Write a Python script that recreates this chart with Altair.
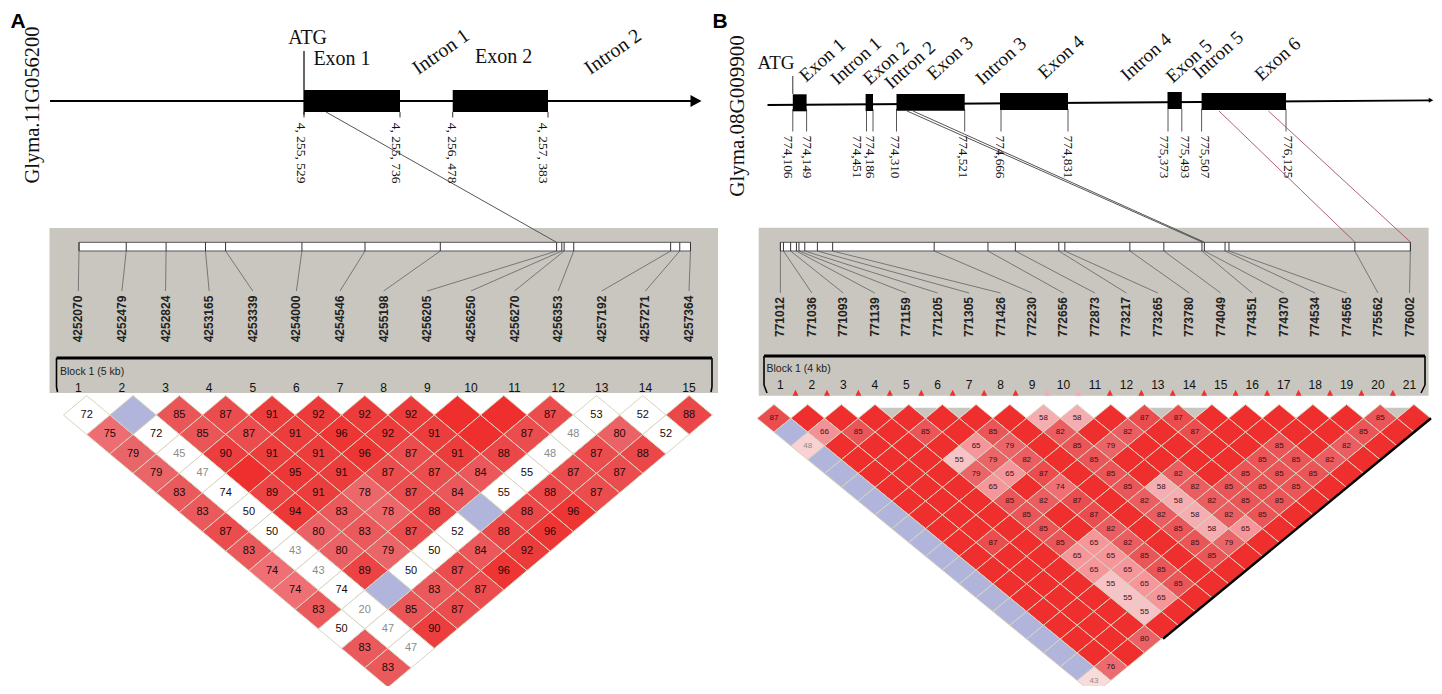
import altair as alt
import pandas as pd

# ---------- panel A: LD matrix (row = SNP distance; None = full-red cell without a number, "B" = blue cell)
LD_A = [
    [72, "B", 85, 87, 91, 92, 92, 92, None, None, 87, 53, 52, 88],
    [75, 72, 85, 87, 91, 96, 92, 91, None, 87, 48, 80, 52],
    [79, 45, 90, 91, 91, 96, 87, 91, 88, 48, 87, 88],
    [79, 47, None, 95, 91, 87, 87, 84, 55, 87, 87],
    [83, 74, 89, 91, 78, 87, 84, 55, 88, 87],
    [83, 50, 94, 83, 78, 88, "B", 88, 96],
    [87, 50, 80, 83, 87, 52, 88, 96],
    [83, 43, 80, 79, 50, 84, 92],
    [74, 43, 89, 50, 87, 96],
    [74, 74, "B", 83, 87],
    [83, 20, 85, 87],
    [50, 47, 90],
    [83, 47],
    [83],
]
# cells of LD_A that are white (row index, cell index)
WHITE_A = [(0, 0), (0, 11), (0, 12), (1, 1), (1, 10), (1, 12), (2, 1), (2, 9), (3, 1), (3, 8),
           (4, 1), (4, 7), (5, 1), (6, 1), (6, 5), (7, 1), (7, 4), (8, 1), (8, 3),
           (9, 1), (10, 1), (11, 0), (11, 1), (12, 1)]

# ---------- panel B: LD matrix, labelled cells only (row -> {cell: value}); every other cell is full red
LD_B = {
    1: {0: 87, 8: 58, 9: 58, 11: 87, 12: 87, 18: 85},
    2: {1: 66, 2: 85, 4: 85, 6: 85, 8: 82, 10: 82, 12: 87, 17: 85},
    3: {0: 48, 5: 65, 6: 79, 8: 85, 9: 79, 14: 85, 16: 82},
    4: {4: 55, 5: 79, 6: 82, 8: 85, 13: 85, 14: 85, 15: 82},
    5: {4: 79, 5: 65, 6: 87, 8: 85, 10: 82, 12: 85, 13: 85, 14: 85},
    6: {4: 65, 6: 74, 8: 85, 9: 58, 10: 82, 11: 85, 12: 85, 13: 85},
    7: {4: 85, 5: 82, 6: 87, 8: 82, 9: 58, 10: 82, 11: 85, 12: 85},
    8: {4: 85, 6: 87, 8: 82, 9: 58, 10: 82, 11: 85},
    9: {4: 85, 6: 82, 8: 85, 9: 58, 10: 65},
    10: {2: 87, 4: 85, 5: 65, 6: 82, 8: 85, 9: 79},
    11: {4: 65, 5: 65, 6: 85, 8: 85},
    12: {4: 65, 5: 65, 6: 85},
    13: {4: 55, 5: 65, 6: 85},
    14: {4: 55, 5: 65},
    15: {4: 55},
    17: {3: 80},
    19: {1: 76},
    20: {0: 43},
}

SNP_A = [4252070, 4252479, 4252824, 4253165, 4253339, 4254000, 4254546, 4255198,
         4256205, 4256250, 4256270, 4256353, 4257192, 4257271, 4257364]
SNP_B = [771012, 771036, 771093, 771139, 771159, 771205, 771305, 771426, 772230, 772656, 772873,
         773217, 773265, 773780, 774049, 774351, 774370, 774534, 774565, 775562, 776002]

COORD_A = ["4, 255, 529", "4, 255, 736", "4, 256, 478", "4, 257, 383"]
COORD_B = ["774,106", "774,149", "774,451", "774,186", "774,310", "774,521",
           "774,666", "774,831", "775,373", "775,493", "775,507", "776,125"]
FEATURES_B = ["Exon 1", "Intron 1", "Exon 2", "Intron 2", "Exon 3", "Intron 3",
              "Exon 4", "Intron 4", "Exon 5", "Intron 5", "Exon 6"]

# ---------- layout
RED_DOMAIN = [43, 55, 58, 65, 74, 79, 85, 90, 100]
RED_RANGE = ["#fadbdb", "#f6c4c6", "#f4aeb2", "#f4969a", "#ef6f74", "#ea6568", "#ea5558", "#ec3e3f", "#ee2f2d"]
BLUE, WHITE, PANEL = "#b2b5db", "#ffffff", "#c8c6bf"

A_CELL = dict(x0=86.7, y0=415.0, hw=23.17, hh=19.45)
B_CELL = dict(x0=774.0, y0=418.3, hw=16.84, hh=13.8)

segments, texts_serif, texts_bold, texts_narrow = [], [], [], []


def seg(x, y, x2, y2, color="#000000", w=1.0):
    segments.append(dict(x=x, y=y, x2=x2, y2=y2, c=color, w=w))


def txt(store, x, y, t, size, angle=0, color="#111111"):
    store.append(dict(x=x, y=y, t=str(t), s=size, a=angle, c=color))


# gene model A
seg(50, 101, 692, 101, "#000000", 2)
seg(304, 51, 304, 115, "#000000", 1.2)
EXONS_A = [(304, 400, 90, 112), (452.7, 548, 90, 112)]
for x, t, tx in zip([304, 400, 452.7, 548], COORD_A, [301, 396, 452, 543]):
    seg(x, 112, x, 117.5, "#333333", 1)
    txt(texts_serif, tx, 153, t, 13.5, 90)
seg(326, 112, 556, 242, "#555555", 1)
txt(texts_serif, 33, 105, "Glyma.11G056200", 20.5, 270)
txt(texts_serif, 307.6, 38, "ATG", 20)
txt(texts_serif, 342, 59, "Exon 1", 20)
txt(texts_serif, 503.6, 57, "Exon 2", 20)
txt(texts_serif, 441, 52, "Intron 1", 20, 325)
txt(texts_serif, 613, 52, "Intron 2", 20, 325)

# gene model B
seg(767.5, 105, 1430, 100.4, "#000000", 1.8)
seg(792.8, 76, 792.8, 94, "#333333", 1)
EXONS_B = [(792.8, 806.6, 94.3, 111.3), (865.6, 873, 94, 111), (896.5, 964.7, 94, 110.7),
           (1000, 1068, 93, 110), (1167.5, 1181.8, 92, 109), (1201.6, 1286, 93, 110)]
for x, x_t, t in zip([792.8, 806.6, 866.5, 873, 896.5, 964.7, 1001, 1068, 1168, 1181.8, 1201.6, 1286],
                     [787.7, 806.6, 857.3, 869.8, 895, 962.9, 999.7, 1068, 1163.8, 1185, 1204.8, 1288.2],
                     COORD_B):
    seg(x, 109, x, 131.5, "#444444", 0.9)
    txt(texts_serif, x_t, 157, t, 13.2, 90)
seg(907, 111, 1202, 242, "#555555", 1)
seg(913, 111, 1204, 242, "#555555", 1)
seg(1219, 111, 1354.8, 242, "#a85062", 0.9)
seg(1268.4, 111, 1410.4, 242, "#a85062", 0.9)
txt(texts_serif, 738, 116, "Glyma.08G009900", 21, 270)
txt(texts_serif, 776, 63, "ATG", 19)
for f, fx, fy in zip(FEATURES_B,
                     [822.3, 856, 886, 910, 950, 1001, 1061, 1146, 1189, 1218, 1277.6],
                     [60, 61, 63, 65, 58, 61, 57, 57, 61, 55, 59]):
    txt(texts_serif, fx, fy, f, 19, 318)

txt(texts_bold, 18, 22, "A", 21, 0, "#000000")
txt(texts_bold, 720, 22, "B", 21, 0, "#000000")


# SNP strips
def strip(snps, bar_l, bar_r, lab_l, lab_r, lab_y, num_y, conn_y):
    n = len(snps)
    for i, s in enumerate(snps):
        bx = bar_l + (s - snps[0]) / (snps[-1] - snps[0]) * (bar_r - bar_l)
        lx = lab_l + i * (lab_r - lab_l) / (n - 1)
        seg(bx, 242.3, bx, 251, "#333333", 1)
        seg(bx, 251, lx, conn_y, "#777777", 1)
        txt(texts_bold, lx, lab_y, s, 12, 270, "#222222")
        txt(texts_narrow, lx, num_y, i + 1, 12, 0, "#111111")


strip(SNP_A, 79, 690.5, 78.3, 689, 319, 388, 291)
strip(SNP_B, 780.4, 1410.4, 780.4, 1409.5, 317, 385, 293)

# brackets
for pts in ([(57.5, 392), (56.5, 387), (56.5, 358), (712, 358), (712, 387), (711, 392)],
            [(767, 393), (764, 385), (764, 356), (1425, 356), (1425, 385), (1421, 393)]):
    for (a, b), (c, d) in zip(pts[:-1], pts[1:]):
        seg(a, b, c, d, "#000000", 3 if b == d else 1.6)

blocks = [dict(x=60, y=372, t="Block 1 (5 kb)"), dict(x=766.5, y=369, t="Block 1 (4 kb)")]


# LD cells
def cell_xy(g, r, k):
    return g["x0"] + (r - 1) * g["hw"] + k * 2 * g["hw"], g["y0"] + (r - 1) * g["hh"]


rows_a = []
for r, row in enumerate(LD_A):
    for k, v in enumerate(row):
        x, y = cell_xy(A_CELL, r + 1, k)
        kind = "blue" if v == "B" else ("white" if (r, k) in WHITE_A else "red")
        rows_a.append(dict(x=x, y=y, v=100 if v in (None, "B") else v, kind=kind,
                           t="" if v in (None, "B") else str(v),
                           c="#8c8c8c" if isinstance(v, int) and v < 50 else "#240808"))
cells_a = pd.DataFrame(rows_a)

rows_b = []
for r in range(1, 21):
    for k in range(21 - r):
        x, y = cell_xy(B_CELL, r, k)
        v = LD_B.get(r, {}).get(k)
        blue = v is None and k == 0 and r != 1
        rows_b.append(dict(x=x, y=y, v=100 if v is None else v, kind="blue" if blue else "red",
                           t="" if v is None else str(v),
                           c="#8c8c8c" if v is not None and v < 50 else "#3a1014"))
cells_b = pd.DataFrame(rows_b)

# gaps showing the panel colour above panel B's first row
GAPS_B = [3.5, 4.5, 5.5, 11.5, 12.5, 18.5]
gaps = pd.DataFrame([dict(x=B_CELL["x0"] + g * 2 * B_CELL["hw"], y=407.7) for g in GAPS_B])
# LD-block markers in panel B
MARKER_COL_B = ["#ee3030"] * 20
MARKER_COL_B[8] = MARKER_COL_B[9] = "#f4aab0"
markers = pd.DataFrame([dict(x=795.5 + i * 31.44, y=392.7, c=c) for i, c in enumerate(MARKER_COL_B)])

# ---------- chart: the scales' domains are the page's own pixel span of the picture
XS = alt.Scale(domain=[8, 1434], nice=False, zero=False)
YS = alt.Scale(domain=[686, 8], nice=False, zero=False)


def X(f="x"):
    return alt.X(f"{f}:Q", scale=XS, axis=None)


def Y(f="y"):
    return alt.Y(f"{f}:Q", scale=YS, axis=None)


def rects(df, **mark):
    return alt.Chart(df).mark_rect(**mark).encode(
        x=X("x"), x2="x2:Q", y=Y("y"), y2="y2:Q", color=alt.Color("c:N", scale=None))


def rules(df):
    return alt.Chart(df).mark_rule().encode(
        x=X("x"), x2="x2:Q", y=Y("y"), y2="y2:Q",
        color=alt.Color("c:N", scale=None), strokeWidth=alt.StrokeWidth("w:Q", scale=None))


def labels(rows, font, weight="normal"):
    return alt.Chart(pd.DataFrame(rows)).mark_text(font=font, fontWeight=weight, align="center", baseline="middle").encode(
        x=X(), y=Y(), text="t:N", size=alt.Size("s:Q", scale=None), angle=alt.Angle("a:Q", scale=None),
        color=alt.Color("c:N", scale=None))


def diamonds(df, hw, hh, color=None):
    path = f"M0,{-hh/hw:.4f}L1,0L0,{hh/hw:.4f}L-1,0Z"
    opts = dict(filled=True, shape=path, size=(2 * hw) ** 2, opacity=1, stroke="#d9d4bf", strokeWidth=1)
    if color:
        return alt.Chart(df).mark_point(color=color, **opts).encode(x=X(), y=Y())
    return alt.Chart(df).mark_point(**opts).encode(x=X(), y=Y(), color=alt.Color(
        "v:Q", legend=None, scale=alt.Scale(domain=RED_DOMAIN, range=RED_RANGE, interpolate="rgb")))


panels = pd.DataFrame([dict(x=49.5, x2=718, y=228, y2=393, c=PANEL),
                       dict(x=758.7, x2=1428.6, y=227.7, y2=395.7, c=PANEL)])
bars = pd.DataFrame([dict(x=79, x2=690.5, y=242.3, y2=251, c=WHITE),
                     dict(x=780.4, x2=1410.4, y=242.3, y2=251, c=WHITE)])
exons = pd.DataFrame([dict(x=a, x2=b, y=c, y2=d, c="#000000") for a, b, c, d in EXONS_A + EXONS_B])
seg_df = pd.DataFrame(segments)
bar_ticks = seg_df[seg_df.y.eq(242.3) & seg_df.y2.eq(251)]
other = seg_df.drop(bar_ticks.index)
heads = pd.DataFrame([dict(x=696, y=101, s=121), dict(x=1431, y=100.3, s=20)])
edge_b = pd.DataFrame([dict(x=1431, y=418.3, x2=1163, y2=638.8, c="#000000", w=2.4)])

cell_text_a = alt.Chart(cells_a[cells_a.t != ""]).mark_text(font="Liberation Sans", fontSize=11, baseline="middle").encode(
    x=X(), y=Y(), text="t:N", color=alt.Color("c:N", scale=None))
cell_text_b = alt.Chart(cells_b[cells_b.t != ""]).mark_text(font="Liberation Sans", fontSize=8, baseline="middle").encode(
    x=X(), y=Y(), text="t:N", color=alt.Color("c:N", scale=None))

layers = [
    rects(panels),
    rules(other),
    rects(bars, stroke="#555555", strokeWidth=1),
    rules(bar_ticks),
    rects(exons),
    alt.Chart(heads).mark_point(filled=True, shape="M-1,-1.1L1,0L-1,1.1Z", opacity=1, color="#000000").encode(
        x=X(), y=Y(), size=alt.Size("s:Q", scale=None)),
    alt.Chart(markers).mark_point(filled=True, shape="M-1,1L1,1L0,-1Z", size=36, opacity=1).encode(
        x=X(), y=Y(), color=alt.Color("c:N", scale=None)),
    diamonds(cells_a[cells_a.kind == "red"], A_CELL["hw"], A_CELL["hh"]),
    diamonds(cells_a[cells_a.kind == "white"], A_CELL["hw"], A_CELL["hh"], WHITE),
    diamonds(cells_a[cells_a.kind == "blue"], A_CELL["hw"], A_CELL["hh"], BLUE),
    diamonds(cells_b[cells_b.kind == "red"], B_CELL["hw"], B_CELL["hh"]),
    diamonds(cells_b[cells_b.kind == "blue"], B_CELL["hw"], B_CELL["hh"], BLUE),
    alt.Chart(gaps).mark_point(filled=True, shape="M-1,0L1,0L0,0.816Z", size=24.5 ** 2, opacity=1, color=PANEL).encode(
        x=X(), y=Y()),
    rules(edge_b),
    cell_text_a,
    cell_text_b,
    labels(texts_serif, "Liberation Serif"),
    labels(texts_bold, "Liberation Sans", "bold"),
    labels(texts_narrow, "Liberation Sans Narrow, Liberation Sans"),
    alt.Chart(pd.DataFrame(blocks)).mark_text(font="Liberation Sans Narrow, Liberation Sans", fontSize=10.5, align="left",
                                              baseline="middle", color="#222222").encode(x=X(), y=Y(), text="t:N"),
]

chart = alt.layer(*layers).properties(
    width=1426, height=678, padding=0, autosize=alt.AutoSizeParams(type="none"), background="#ffffff"
).configure_view(stroke=None)

chart.save("out.html", embed_options={"renderer": "svg", "actions": False})
